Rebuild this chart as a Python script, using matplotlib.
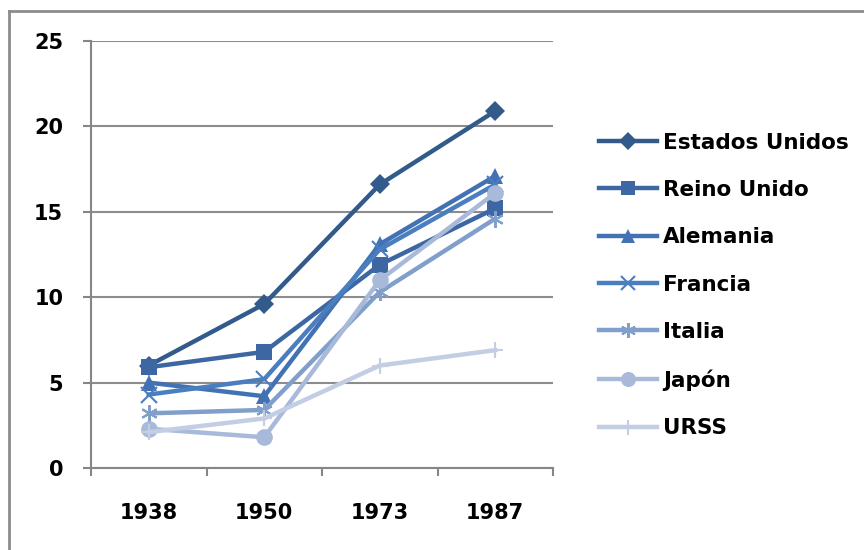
import matplotlib.pyplot as plt
from matplotlib.lines import Line2D

years = ["1938", "1950", "1973", "1987"]
estados_unidos = [6.0, 9.6, 16.6, 20.9]
reino_unido = [5.9, 6.8, 11.9, 15.2]
alemania = [5.0, 4.2, 13.1, 17.1]
francia = [4.3, 5.2, 12.8, 16.6]
italia = [3.2, 3.4, 10.3, 14.6]
japon = [2.3, 1.8, 11.0, 16.1]
urss = [2.1, 2.9, 6.0, 6.9]

series = [
    ("Estados Unidos", estados_unidos, "#325B8C", "D", 10),
    ("Reino Unido", reino_unido, "#3C67A2", "s", 11),
    ("Alemania", alemania, "#4372B4", "^", 11),
    ("Francia", francia, "#4A7EBE", "x", 11),
    ("Italia", italia, "#819FCB", (6, 2, 0), 12),
    ("Japón", japon, "#A8B9D9", "o", 12),
    ("URSS", urss, "#C3CDE3", "+", 12),
]

plt.rcParams['font.family'] = ['DejaVu Sans']
fig = plt.figure(figsize=(8.64, 5.5), dpi=100)
ax = fig.add_axes([91/864, 1 - 468/550, (553 - 91)/864, (468 - 41)/550])

x = range(len(years))
for name, vals, col, mk, ms in series:
    ax.plot(x, vals, color=col, lw=3.2, marker=mk, markersize=ms,
            markeredgewidth=1.5 if mk in ("x", "+") or isinstance(mk, tuple) else 0,
            markeredgecolor=col, markerfacecolor=col, label=name)

ax.set_xlim(-0.5, 3.5)
ax.set_ylim(0, 25)
ax.set_yticks([0, 5, 10, 15, 20, 25])
ax.set_xticks(list(x))
ax.set_xticklabels(years)
ax.set_xticks([-0.5, 0.5, 1.5, 2.5, 3.5], minor=True)
ax.tick_params(axis='x', which='major', length=0, pad=25, labelsize=15)
ax.tick_params(axis='x', which='minor', length=6, color="#868686", width=1.5)
ax.tick_params(axis='y', length=6, color="#868686", width=1.5, pad=14, labelsize=15)
for lab in ax.get_xticklabels() + ax.get_yticklabels():
    lab.set_fontweight('bold')

ax.grid(axis='y', color="#8c8c8c", lw=1.5)
ax.set_axisbelow(True)
for s in ("top", "right"):
    ax.spines[s].set_visible(False)
for s in ("left", "bottom"):
    ax.spines[s].set_color("#868686")
    ax.spines[s].set_linewidth(1.5)

leg = fig.legend(loc="upper left", bbox_to_anchor=(590/864, 1 - 124/550),
                 frameon=False, prop={'size': 15.5, 'weight': 'bold'},
                 handlelength=2.7, handletextpad=0.3, labelspacing=1.27,
                 borderaxespad=0, markerscale=0.9)

# chart border
fig.add_artist(Line2D([9/864, 1], [1 - 11/550, 1 - 11/550], color="#8c8c8c", lw=2))
fig.add_artist(Line2D([9/864, 9/864], [0, 1 - 11/550], color="#8c8c8c", lw=2))

fig.savefig("out.png", dpi=100)
